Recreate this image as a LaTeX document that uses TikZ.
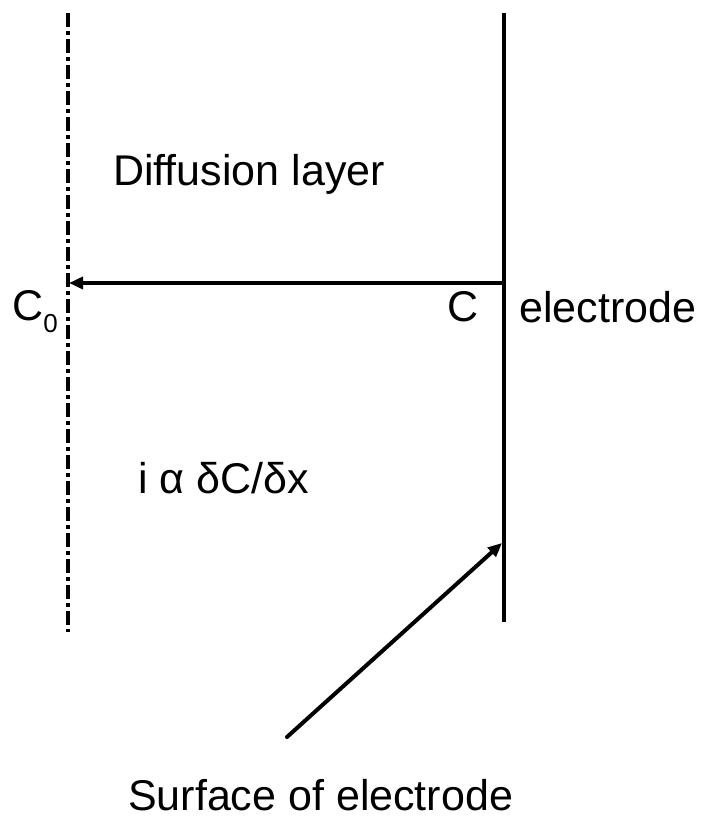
\documentclass[tikz,border=0pt]{standalone}
\usepackage{fontspec}
\setmainfont{Liberation Sans}
\usetikzlibrary{arrows.meta}

\begin{document}
\begin{tikzpicture}[x=1pt,y=-1pt,font=\fontsize{43}{50}\selectfont,
  lbl/.style={anchor=base west,inner sep=0pt},
  flux/.style={line width=4pt,-{Triangle[length=14pt,width=12pt]}}]
\useasboundingbox (0,0) rectangle (704,823);
\coordinate (bulktop) at (68,13);
\coordinate (bulkbot) at (68,632);
\coordinate (eltop) at (504,13);
\coordinate (elbot) at (504,622);
\coordinate (surf) at (502,283);
\coordinate (bulk) at (69,283);
\coordinate (tail) at (287,737);
\coordinate (hit) at (502,543);
\draw[line width=3.6pt,dash pattern=on 14pt off 4pt on 4pt off 4pt] (bulktop) -- (bulkbot);
\draw[line width=4.5pt] (eltop) -- (elbot);
\draw[flux] (surf) -- (bulk);
\draw[flux,line cap=round] (tail) -- (hit);
\node[lbl] (layer) at (113,185) {Diffusion layer};
\node[lbl] (cbulk) at (12,320) {C\raisebox{-12pt}{\fontsize{26}{26}\selectfont 0}};
\node[lbl] (csurf) at (447,321) {C};
\node[lbl] (elec) at (519,322) {electrode};
\node[lbl] (rate) at (138,493) {i α δC/δx};
\node[lbl] (surface) at (128,810) {Surface of electrode};
\end{tikzpicture}
\end{document}
